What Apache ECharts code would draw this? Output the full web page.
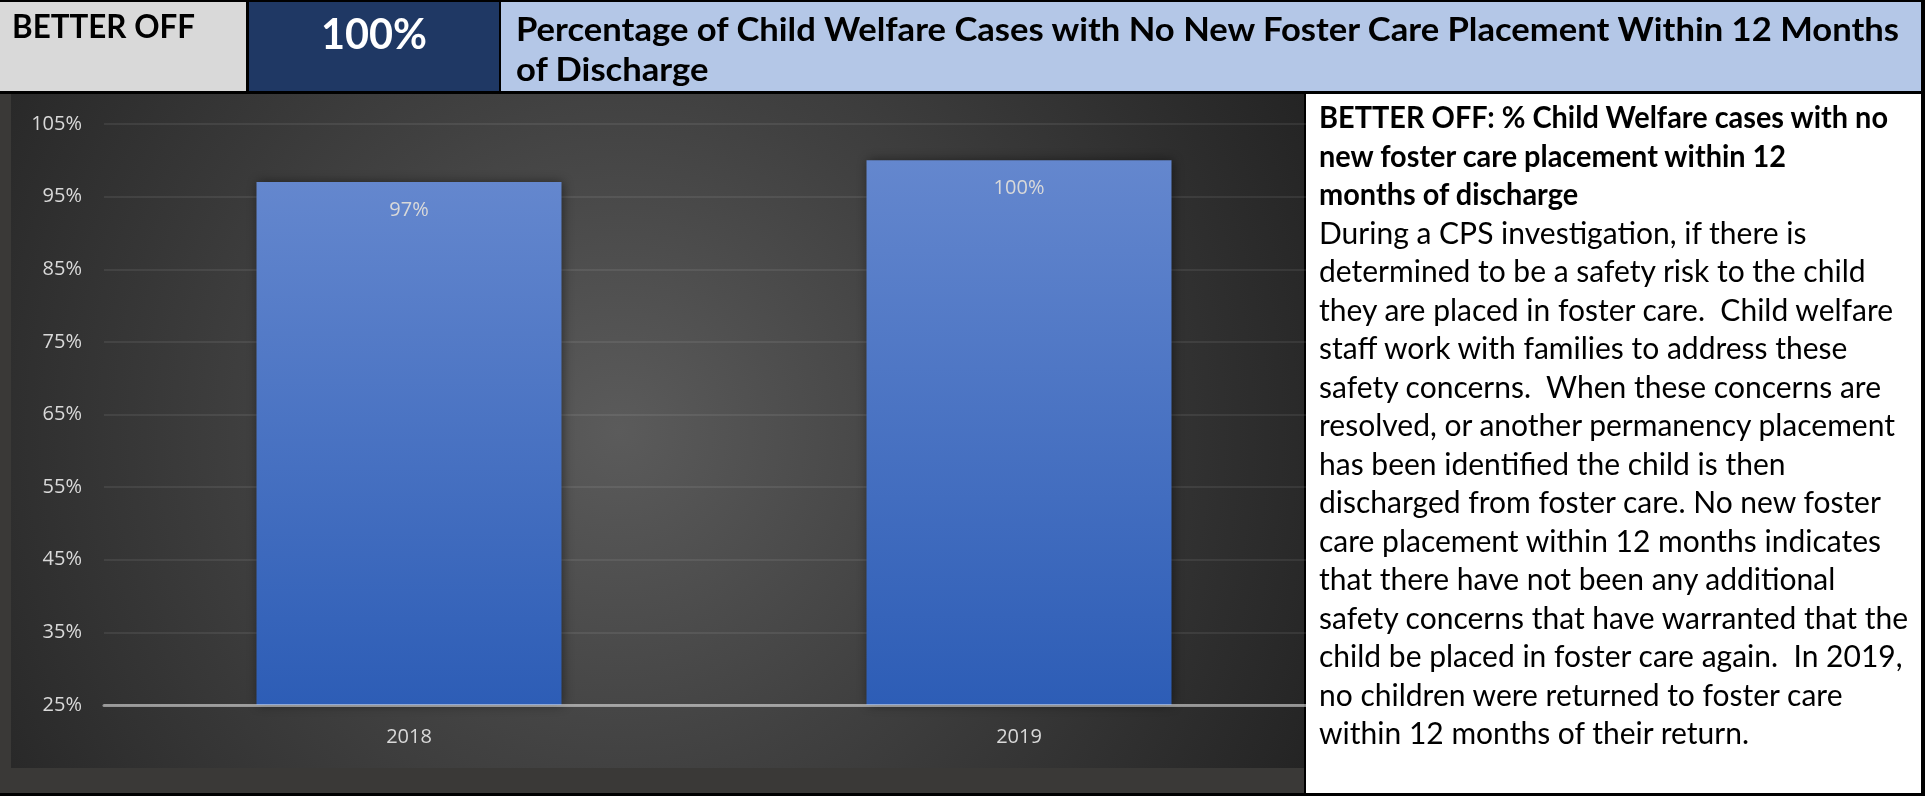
<!DOCTYPE html>
<html>
<head>
<meta charset="utf-8">
<title>Better Off – Child Welfare Placements</title>
<script src="https://cdn.jsdelivr.net/npm/echarts@6/dist/echarts.min.js"></script>
<style>
  html, body { margin: 0; padding: 0; background: #000; }
  #page { position: relative; width: 1925px; height: 796px; overflow: hidden; background: #000; }
  .box { position: absolute; }
  .line { position: absolute; white-space: nowrap; transform-origin: 0 0; font-family: Lato, "Open Sans", sans-serif; }
  #chart { position: absolute; left: 0; top: 0; width: 1925px; height: 796px; z-index: 2; }
  #panelOuter { left: 0; top: 94px; width: 1304px; height: 699px; background: #3a3937; z-index: 1; }
  #panelInner { left: 11px; top: 94px; width: 1293px; height: 674px; z-index: 1;
    background: radial-gradient(circle farthest-corner at 47% 50%, #5b5b5b 0%, #414141 45%, #242424 100%); }
  #cellLabel { left: 0; top: 2px; width: 246px; height: 89px; background: #d9d9d9; z-index: 3; }
  #cellValue { left: 249px; top: 2px; width: 250px; height: 89px; background: #1f3864; z-index: 3; }
  #cellTitle { left: 501px; top: 2px; width: 1420px; height: 89px; background: #b4c7e7; z-index: 3; }
  #note { left: 1306px; top: 94px; width: 615px; height: 699px; background: #fff; z-index: 3; }
  #texts { position: absolute; left: 0; top: 0; width: 1925px; height: 796px; z-index: 4; pointer-events: none; }
</style>
</head>
<body>
<div id="page">
  <div class="box" id="panelOuter"></div>
  <div class="box" id="panelInner"></div>
  <div id="chart"></div>
  <div class="box" id="cellLabel"></div>
  <div class="box" id="cellValue"></div>
  <div class="box" id="cellTitle"></div>
  <div class="box" id="note"></div>
  <div id="texts"></div>
</div>
<script>
// ---- content ----
const headerLabel = 'BETTER OFF';
const headlineValue = '100%';
const titleLines = [
  'Percentage of Child Welfare Cases with No New Foster Care Placement Within 12 Months',
  'of Discharge'
];
const noteHeading = [
  'BETTER OFF: % Child Welfare cases with no',
  'new foster care placement within 12',
  'months of discharge'
];
const noteBody = [
  'During a CPS investigation, if there is',
  'determined to be a safety risk to the child',
  'they are placed in foster care.\u00a0 Child welfare',
  'staff work with families to address these',
  'safety concerns.\u00a0 When these concerns are',
  'resolved, or another permanency placement',
  'has been identified the child is then',
  'discharged from foster care. No new foster',
  'care placement within 12 months indicates',
  'that there have not been any additional',
  'safety concerns that have warranted that the',
  'child be placed in foster care again.\u00a0 In 2019,',
  'no children were returned to foster care',
  'within 12 months of their return.'
];

// ---- chart data ----
const years = ['2018', '2019'];
const pctNoNewPlacement = [97, 100];
const yAxisMin = 25;
const yAxisMax = 105;
const yAxisStep = 10;

// ---- text helpers ----
const layer = document.getElementById('texts');

// Places one line of text with its baseline at y; returns the element.
function addLine(text, x, baseline, size, weight, color, lineHeight) {
  const el = document.createElement('div');
  el.className = 'line';
  el.textContent = text;
  el.style.fontSize = size + 'px';
  el.style.fontWeight = weight;
  el.style.color = color;
  el.style.lineHeight = lineHeight + 'px';
  // Lato: ascent 0.987em, content height 1.2em
  const top = baseline - ((lineHeight - 1.2 * size) / 2 + 0.987 * size);
  el.style.left = x + 'px';
  el.style.top = top + 'px';
  layer.appendChild(el);
  return el;
}
function natWidth(el) { return el.getBoundingClientRect().width; }
function squeeze(els, k) { els.forEach(e => { e.style.transform = 'scaleX(' + k + ')'; }); }

// header row
const lbl = addLine(headerLabel, 12, 38, 33, 700, '#000', 44);
squeeze([lbl], 183 / natWidth(lbl));

const val = addLine(headlineValue, 321, 49, 42, 700, '#fff', 50);
squeeze([val], 106 / natWidth(val));

const titleEls = titleLines.map((t, i) => addLine(t, 516, 41 + i * 40, 32, 700, '#000', 40));
squeeze(titleEls, 1383 / natWidth(titleEls[0]));

// note panel
const notePitch = 38.5;
const headEls = noteHeading.map((t, i) =>
  addLine(t, 1319, 128 + i * notePitch, 30, 700, '#000', notePitch));
const bodyEls = noteBody.map((t, i) =>
  addLine(t, 1319, 128 + (i + noteHeading.length) * notePitch, 30, 400, '#000', notePitch));
squeeze(headEls, 569 / natWidth(headEls[0]));
squeeze(bodyEls, 576 / natWidth(bodyEls[5]));

// ---- chart ----
const chart = echarts.init(document.getElementById('chart'), null, { renderer: 'canvas' });
const labelFont = { color: '#d9d9d9', fontSize: 20, fontFamily: '"Open Sans", sans-serif' };

chart.setOption({
  backgroundColor: 'transparent',
  animation: false,
  grid: { left: 104, right: 601, top: 124, bottom: 91, containLabel: false },
  xAxis: {
    type: 'category',
    data: years,
    z: 5,
    axisLine: { show: true, lineStyle: { color: 'rgba(255,255,255,0.48)', width: 3 } },
    axisTick: { show: false },
    axisLabel: Object.assign({ margin: 22 }, labelFont),
    splitLine: { show: false }
  },
  yAxis: {
    type: 'value',
    min: yAxisMin,
    max: yAxisMax,
    interval: yAxisStep,
    axisLine: { show: false },
    axisTick: { show: false },
    axisLabel: Object.assign({ margin: 22, formatter: v => v + '%' }, labelFont),
    splitLine: { lineStyle: { color: 'rgba(255,255,255,0.1)', width: 1.5 } }
  },
  series: [{
    type: 'bar',
    data: pctNoNewPlacement,
    barWidth: '50%',
    itemStyle: {
      color: new echarts.graphic.LinearGradient(0, 0, 0, 1, [
        { offset: 0, color: '#6487ce' },
        { offset: 1, color: '#2d5db6' }
      ]),
      shadowColor: 'rgba(0,0,0,0.45)',
      shadowBlur: 10,
      shadowOffsetX: 1
    },
    label: Object.assign({
      show: true,
      position: 'insideTop',
      distance: 18,
      formatter: p => p.value + '%'
    }, labelFont)
  }]
});
</script>
</body>
</html>
